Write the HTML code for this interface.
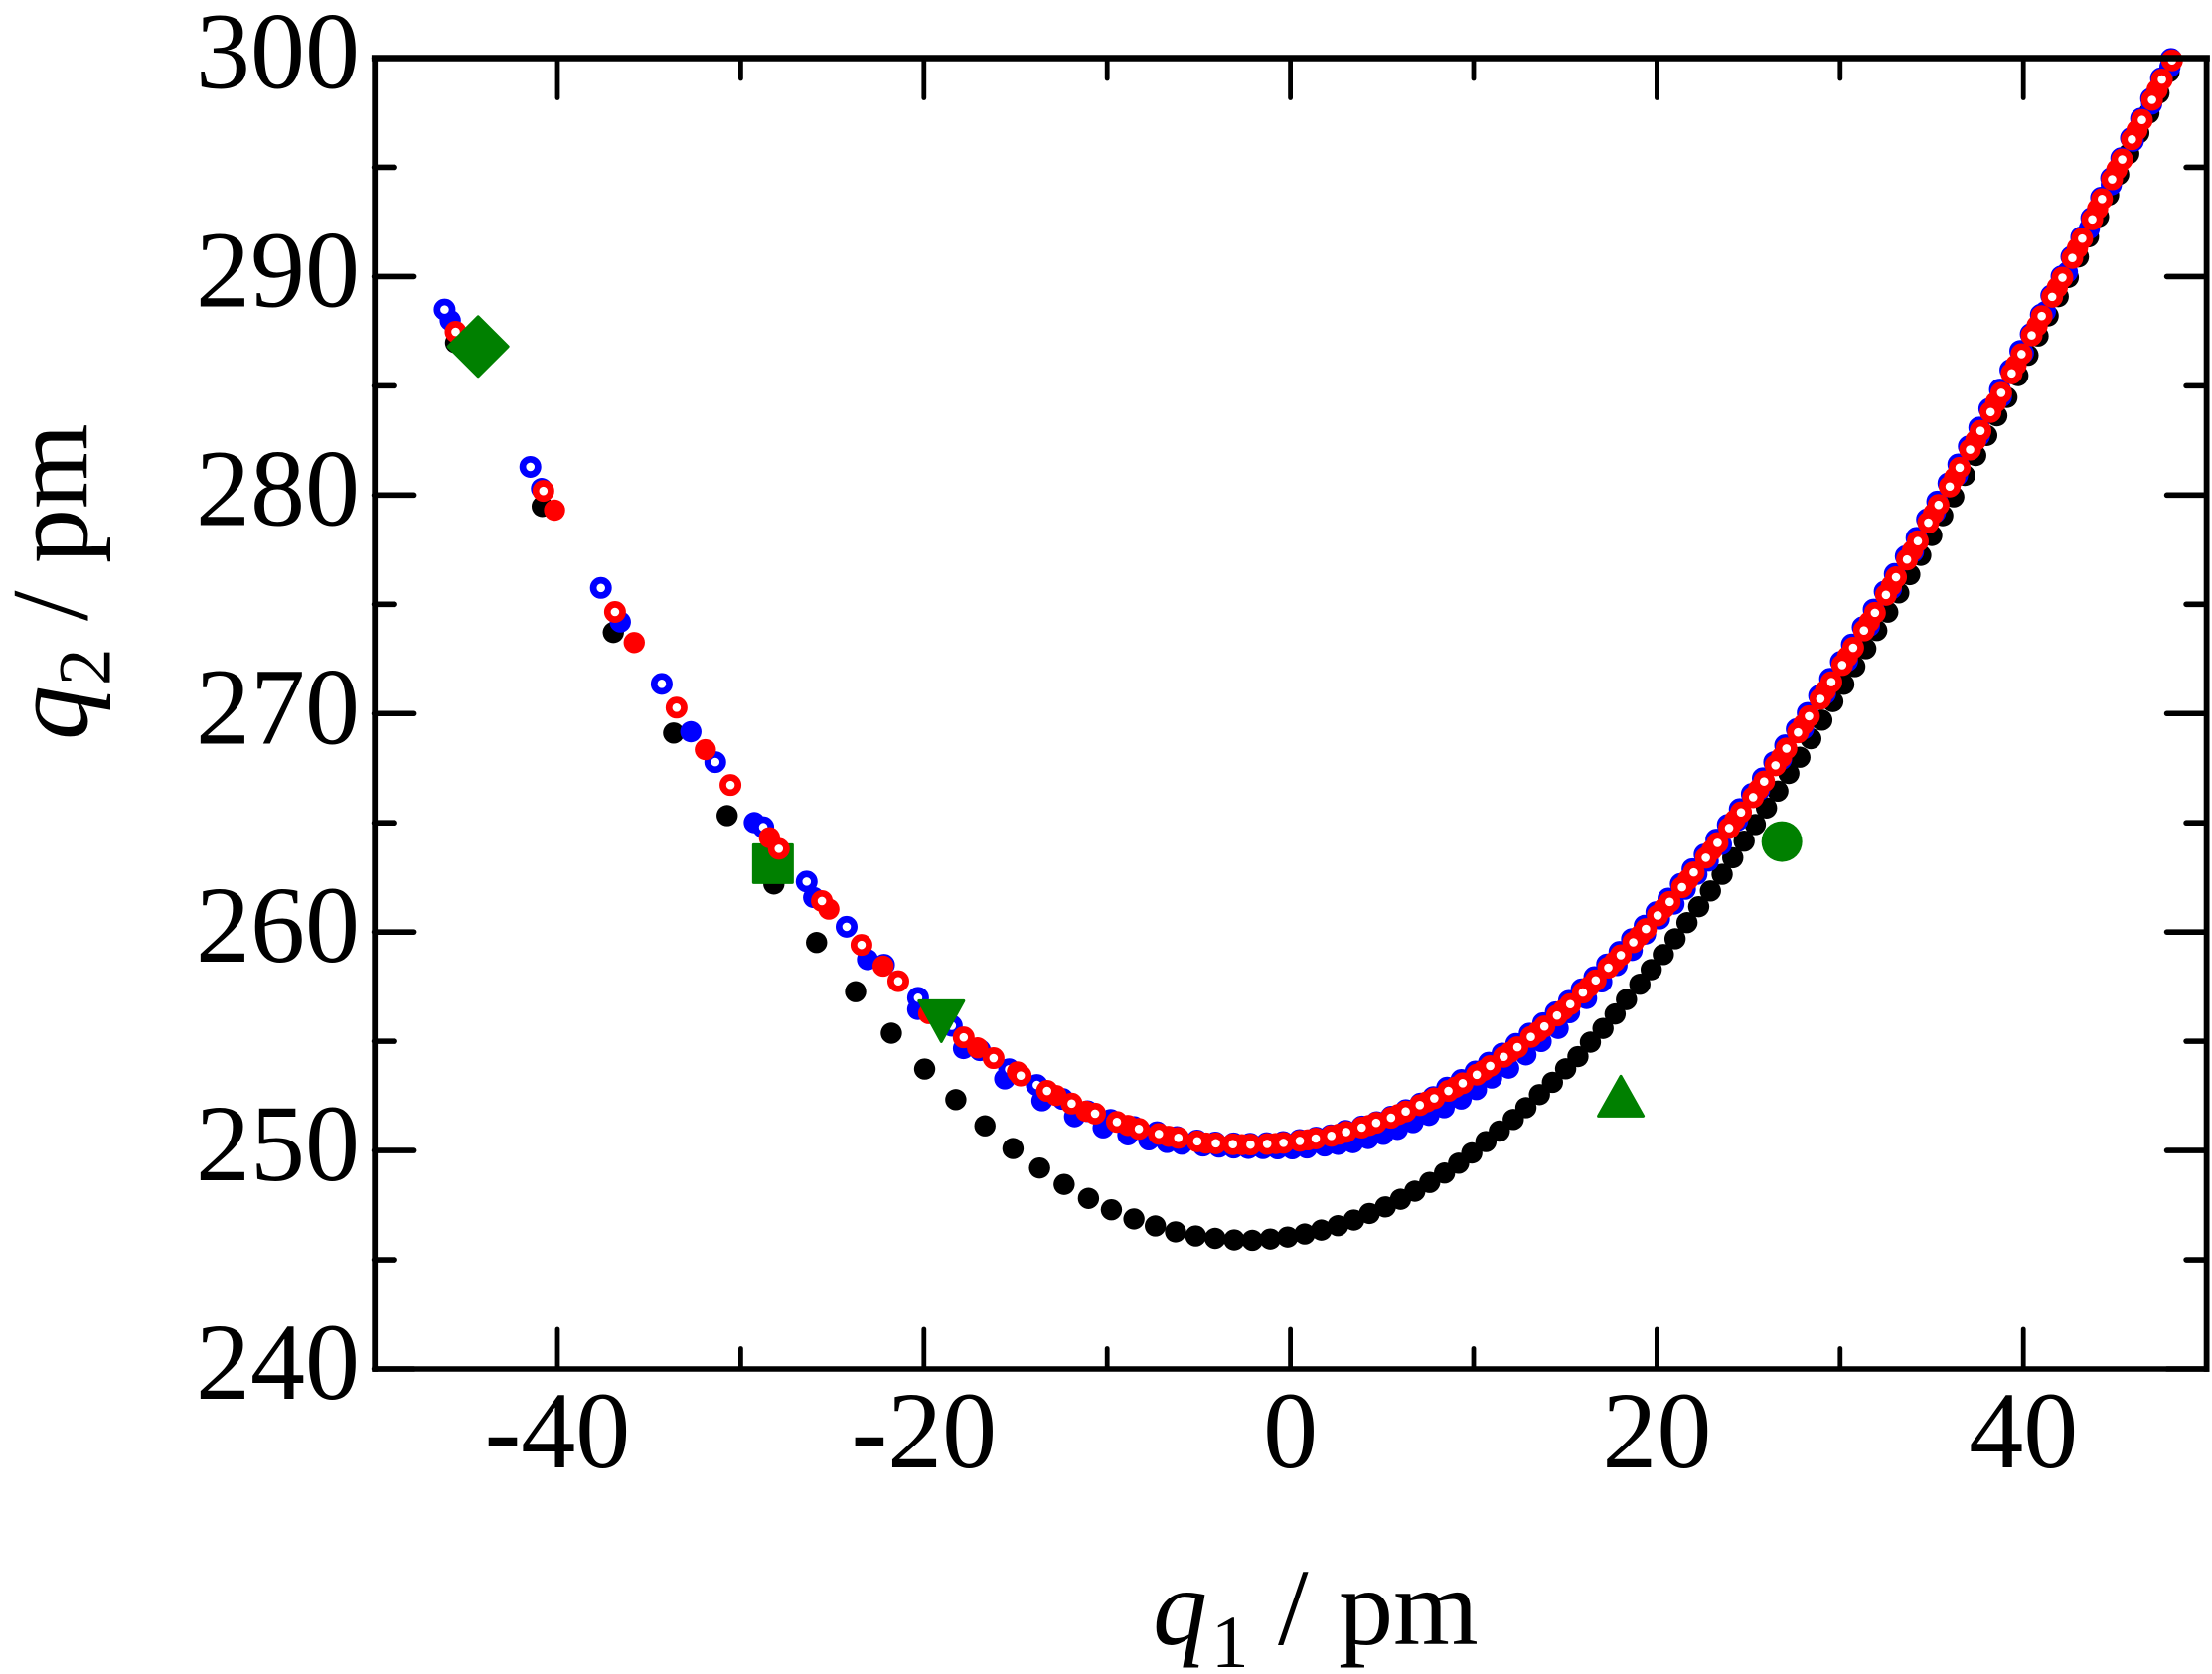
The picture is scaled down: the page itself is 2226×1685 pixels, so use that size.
<!DOCTYPE html>
<html lang="en">
<head>
<meta charset="utf-8">
<title>q1 vs q2 chart</title>
<style>
html,body{margin:0;padding:0;background:#fff;}
svg{display:block;}
text{font-family:"Liberation Serif",serif;fill:#000;}
</style>
</head>
<body>
<svg id="chart" xmlns="http://www.w3.org/2000/svg" width="2226" height="1685" viewBox="0 0 2226 1685">
  <rect x="0" y="0" width="2226" height="1685" fill="#fff"/>
  <g id="series"></g>
  <g id="axes"></g>
  <text x="1160" y="1655" font-size="110"><tspan font-style="italic">q</tspan><tspan font-size="75" dy="23" dx="4">1</tspan><tspan dy="-23" dx="2"> / </tspan><tspan dx="3">pm</tspan></text>
  <text transform="translate(87.5,745) rotate(-90)" font-size="110"><tspan font-style="italic">q</tspan><tspan font-size="75" dy="23">2</tspan><tspan dy="-23"> / pm</tspan></text>
</svg>
<script>
const xMin = -50;
const xMax = 50;
const yMin = 240;
const yMax = 300;
const xMajorTicks = [-40, -20, 0, 20, 40];
const xMinorTicks = [-30, -10, 10, 30];
const yMajorTicks = [240, 250, 260, 270, 280, 290, 300];
const yMinorTicks = [245, 255, 265, 275, 285, 295];

const blackQ1 = [-45.56,-40.83,-36.95,-33.66,-30.74,-28.19,-25.86,-23.73,-21.78,-19.96,-18.26,-16.67,-15.14,-13.69,-12.35,-11.02,-9.77,-8.54,-7.37,-6.27,-5.17,-4.11,-3.07,-2.08,-1.10,-0.15,0.78,1.69,2.59,3.46,4.31,5.18,6.01,6.79,7.60,8.41,9.18,9.90,10.67,11.40,12.16,12.85,13.59,14.30,15.02,15.69,16.37,17.06,17.72,18.34,19.07,19.69,20.35,20.99,21.64,22.28,22.92,23.56,24.14,24.76,25.37,25.98,26.6,27.2,27.8,28.4,29.0,29.6,30.2,30.8,31.4,32.0,32.6,33.2,33.8,34.4,35.0,35.6,36.2,36.8,37.4,38.0,38.55,39.1,39.7,40.25,40.8,41.35,41.9,42.45,43.0,43.55,44.1,44.65,45.2,45.75,46.3,46.85,47.4,47.95];
const blackQ2 = [286.97,279.48,273.71,269.11,265.33,262.20,259.52,257.27,255.37,253.73,252.33,251.13,250.09,249.20,248.45,247.81,247.29,246.87,246.55,246.28,246.09,245.98,245.91,245.89,245.95,246.04,246.18,246.36,246.56,246.82,247.12,247.42,247.77,248.14,248.54,248.97,249.42,249.89,250.41,250.89,251.42,251.96,252.56,253.12,253.74,254.30,254.96,255.59,256.25,256.91,257.61,258.28,258.97,259.69,260.43,261.16,261.88,262.64,263.40,264.16,264.92,265.68,266.45,267.26,268.0,268.85,269.7,270.55,271.34,272.15,272.97,273.8,274.64,275.52,276.36,277.24,278.15,279.06,279.92,280.9,281.81,282.73,283.63,284.47,285.47,286.4,287.28,288.2,289.08,289.96,290.9,291.82,292.74,293.73,294.67,295.62,296.57,297.48,298.4,299.37];

const blueFilledQ1 = [-45.85,-40.87,-36.57,-32.72,-29.26,-26.02,-23.08,-20.34,-17.84,-15.59,-13.56,-11.78,-10.22,-8.87,-7.73,-6.74,-5.93,-4.77,-3.9,-3.1,-2.3,-1.5,-0.7,0.1,0.9,1.86,2.6,3.41,4.24,5.07,5.84,6.69,7.56,8.39,9.32,10.15,10.98,11.91,12.85,13.68,14.61,15.23,16.16,16.99,17.82,18.65,19.38,20.14,20.93,21.55,22.18,22.80,23.52,24.4,25.6,26.8,28.0,29.2,30.4,31.6,32.8,34.0,35.2,36.4,37.6,38.8,40.0,41.2,42.4,43.6,44.8,46.0,47.0,48.0];
const blueFilledQ2 = [287.99,280.30,274.19,269.17,265.01,261.58,258.74,256.46,254.67,253.28,252.28,251.55,251.04,250.72,250.49,250.37,250.29,250.21,250.16,250.12,250.10,250.09,250.08,250.08,250.12,250.21,250.28,250.36,250.55,250.74,250.97,251.28,251.61,251.96,252.36,252.79,253.32,253.77,254.38,254.99,255.59,256.31,256.96,257.72,258.47,259.16,259.91,260.60,261.28,261.96,262.64,263.25,264.01,265.1,266.5,267.9,269.3,270.9,272.4,274.0,275.7,277.4,279.2,280.9,282.7,284.5,286.5,288.4,290.2,292.2,294.2,296.2,297.9,299.6];

const blueOpenQ1 = [-46.16,-41.48,-37.63,-34.31,-31.39,-28.77,-26.40,-24.22,-22.18,-20.32,-18.48,-16.94,-15.35,-13.84,-12.43,-11.07,-9.81,-8.55,-7.28,-6.2,-5.1,-4.1,-3.1,-2.2,-1.3,-0.4,0.5,1.4,2.2,3.0,3.9,4.7,5.5,6.3,7.1,7.8,8.55,9.33,10.10,10.83,11.57,12.32,13.05,13.79,14.48,15.20,15.89,16.59,17.28,17.96,18.64,19.33,19.97,20.63,21.30,21.94,22.60,23.24,23.87,24.52,25.18,25.78,26.40,27.00,27.63,28.23,28.85,29.45,30.04,30.64,31.23,31.83,32.43,32.98,33.58,34.17,34.74,35.30,35.91,36.45,37.02,37.59,38.14,38.72,39.29,39.83,40.40,40.95,41.52,42.08,42.62,43.16,43.71,44.24,44.79,45.34,45.87,46.42,46.97,47.51,48.06];
const blueOpenQ2 = [288.49,281.29,275.75,271.36,267.78,264.80,262.31,260.24,258.50,256.99,255.71,254.59,253.72,253.00,252.36,251.80,251.40,251.08,250.84,250.62,250.46,250.37,250.33,250.31,250.34,250.39,250.48,250.59,250.7,250.9,251.1,251.3,251.55,251.85,252.15,252.45,252.88,253.23,253.62,254.02,254.44,254.88,255.35,255.83,256.33,256.85,257.38,257.94,258.52,259.09,259.68,260.29,260.91,261.53,262.20,262.88,263.55,264.23,264.91,265.63,266.32,267.04,267.78,268.55,269.29,270.03,270.82,271.59,272.37,273.16,273.95,274.76,275.58,276.39,277.20,278.04,278.89,279.70,280.54,281.40,282.23,283.09,283.95,284.83,285.72,286.60,287.37,288.25,289.13,290.01,290.91,291.80,292.68,293.61,294.51,295.42,296.34,297.23,298.15,299.08,299.96];

const redFilledQ1 = [-40.16,-35.81,-31.93,-28.43,-25.19,-22.23,-19.74,-17.07,-14.9,-12.79,-11.16,-8.87,-6.65,-4.6,-2.65,-0.8,0.95,2.65,4.3,5.9,7.45,9.0,10.55,12.0,13.5,14.9,16.3,17.7,19.05,20.4,21.7,23.0,24.25,25.55,26.8,28.0,29.2,30.4,31.6,32.8,33.95,35.1,36.25,37.4,38.5,39.6,40.75,41.85,42.95,44.05,45.1,46.2,47.3];
const redFilledQ2 = [279.31,273.25,268.35,264.32,261.05,258.44,256.27,254.70,253.6,252.52,251.80,251.15,250.65,250.34,250.27,250.32,250.49,250.75,251.15,251.65,252.23,252.9,253.67,254.5,255.43,256.44,257.5,258.65,259.83,261.1,262.4,263.75,265.12,266.53,268.0,269.5,271.05,272.6,274.2,275.85,277.45,279.15,280.8,282.5,284.25,285.95,287.75,289.5,291.3,293.1,294.9,296.7,298.55];

const redOpenQ1 = [-45.56,-40.77,-36.86,-33.50,-30.56,-27.92,-25.57,-23.41,-21.40,-19.5,-17.83,-16.20,-14.72,-13.28,-11.94,-10.66,-9.47,-8.27,-7.18,-6.12,-5.08,-4.07,-3.14,-2.18,-1.27,-0.38,0.51,1.38,2.23,3.04,3.89,4.68,5.49,6.29,7.06,7.85,8.62,9.40,10.17,10.90,11.64,12.39,13.12,13.86,14.55,15.27,15.96,16.66,17.35,18.03,18.71,19.40,20.04,20.70,21.37,22.01,22.67,23.31,23.94,24.59,25.25,25.85,26.47,27.07,27.70,28.30,28.92,29.52,30.11,30.71,31.30,31.90,32.50,33.05,33.65,34.24,34.81,35.37,35.98,36.52,37.09,37.66,38.21,38.79,39.36,39.90,40.45,41.00,41.57,42.13,42.67,43.21,43.76,44.29,44.84,45.39,45.92,46.47,47.02,47.56,48.11];
const redOpenQ2 = [287.47,280.19,274.65,270.27,266.73,263.81,261.42,259.41,257.75,256.4,255.18,254.23,253.43,252.73,252.15,251.69,251.31,250.99,250.76,250.58,250.42,250.33,250.29,250.27,250.30,250.35,250.44,250.55,250.67,250.85,251.05,251.27,251.50,251.79,252.08,252.39,252.73,253.08,253.47,253.87,254.29,254.73,255.20,255.68,256.18,256.70,257.23,257.79,258.37,258.94,259.53,260.14,260.76,261.38,262.05,262.73,263.40,264.08,264.76,265.48,266.17,266.89,267.63,268.40,269.14,269.88,270.67,271.44,272.22,273.01,273.80,274.61,275.43,276.24,277.05,277.89,278.74,279.55,280.39,281.25,282.08,282.94,283.80,284.68,285.57,286.45,287.31,288.19,289.07,289.95,290.85,291.74,292.62,293.55,294.45,295.36,296.28,297.17,298.09,299.02,299.90];

const squarePoint = [-28.24, 263.13];
const diamondPoint = [-44.33, 286.80];
const triangleDownPoint = [-19.05, 255.92];
const triangleUpPoint = [18.03, 252.49];
const circlePoint = [26.82, 264.14];

const plotLeft = 376.6;
const plotRight = 2220.6;
const plotTop = 58.5;
const plotBottom = 1378;
const SVG_NS = 'http://www.w3.org/2000/svg';

function xScale(v) {
  return plotLeft + (v - xMin) * (plotRight - plotLeft) / (xMax - xMin);
}
function yScale(v) {
  return plotBottom - (v - yMin) * (plotBottom - plotTop) / (yMax - yMin);
}

const axes = document.getElementById('axes');
const series = document.getElementById('series');

function edge(x1, y1, x2, y2, w, label) {
  const el = document.createElementNS(SVG_NS, 'line');
  
  
  el.setAttribute('x1', x1);
  el.setAttribute('y1', y1);
  el.setAttribute('x2', x2);
  el.setAttribute('y2', y2);
  el.setAttribute('stroke', '#000');
  el.setAttribute('stroke-width', w);
  el.setAttribute('stroke-linecap', 'square');
  axes.appendChild(el);
}
edge(xScale(xMin) + 0.6, yScale(yMax), xScale(xMax), yScale(yMax), 6.6, 'plot-frame-top');
edge(xScale(xMin) + 0.6, yScale(yMin), xScale(xMax), yScale(yMin), 5.6, 'plot-frame-bottom');
edge(xScale(xMin) + 0.6, yScale(yMax), xScale(xMin) + 0.6, yScale(yMin), 5.8, 'plot-frame-left');
edge(xScale(xMax), yScale(yMax), xScale(xMax), yScale(yMin), 5.8, 'plot-frame-right');

function tick(x1, y1, x2, y2, w) {
  const el = document.createElementNS(SVG_NS, 'line');
  
  
  el.setAttribute('x1', x1);
  el.setAttribute('y1', y1);
  el.setAttribute('x2', x2);
  el.setAttribute('y2', y2);
  el.setAttribute('stroke', '#000');
  el.setAttribute('stroke-width', w);
  el.setAttribute('stroke-linecap', 'round');
  axes.appendChild(el);
}
function xTicks(vals, len) {
  vals.forEach(function (v) {
    tick(xScale(v), plotBottom, xScale(v), plotBottom - len, 4.8);
    tick(xScale(v), plotTop, xScale(v), plotTop + len, 4.8);
  });
}
function yTicks(vals, len) {
  vals.forEach(function (v) {
    tick(plotLeft, yScale(v), plotLeft + len, yScale(v), 5.6);
    tick(plotRight, yScale(v), plotRight - len, yScale(v), 5.6);
  });
}
xTicks(xMajorTicks, 40);
xTicks(xMinorTicks, 20.5);
yTicks(yMajorTicks, 40);
yTicks(yMinorTicks, 20.5);

xMajorTicks.forEach(function (v) {
  const el = document.createElementNS(SVG_NS, 'text');
  
  
  el.setAttribute('x', xScale(v));
  el.setAttribute('y', 1477);
  el.setAttribute('font-size', 110);
  el.setAttribute('text-anchor', 'middle');
  el.textContent = String(v);
  axes.appendChild(el);
});
yMajorTicks.forEach(function (v) {
  const el = document.createElementNS(SVG_NS, 'text');
  
  
  el.setAttribute('x', 362);
  el.setAttribute('y', yScale(v) + 30);
  el.setAttribute('font-size', 110);
  el.setAttribute('text-anchor', 'end');
  el.textContent = String(v);
  axes.appendChild(el);
});

function drawFilled(q1s, q2s, color, label) {
  q1s.forEach(function (q1, i) {
    const el = document.createElementNS(SVG_NS, 'circle');
    
    
    el.setAttribute('cx', xScale(q1));
    el.setAttribute('cy', yScale(q2s[i]));
    el.setAttribute('r', 10.7);
    el.setAttribute('fill', color);
    series.appendChild(el);
  });
}
function drawOpen(q1s, q2s, color, label) {
  q1s.forEach(function (q1, i) {
    const el = document.createElementNS(SVG_NS, 'circle');
    
    
    el.setAttribute('cx', xScale(q1));
    el.setAttribute('cy', yScale(q2s[i]));
    el.setAttribute('r', 7.65);
    el.setAttribute('fill', '#fff');
    el.setAttribute('stroke', color);
    el.setAttribute('stroke-width', 6.7);
    series.appendChild(el);
  });
}
function drawGreen(point, offsets, label) {
  const cx = xScale(point[0]);
  const cy = yScale(point[1]);
  const pts = offsets.map(function (o) {
    return (cx + o[0]) + ',' + (cy + o[1]);
  }).join(' ');
  const el = document.createElementNS(SVG_NS, 'polygon');
  
  
  el.setAttribute('points', pts);
  el.setAttribute('fill', '#008000');
  el.setAttribute('stroke', '#008000');
  el.setAttribute('stroke-width', 3);
  el.setAttribute('stroke-linejoin', 'round');
  series.appendChild(el);
}

drawFilled(blackQ1, blackQ2, '#000', 'black-point');
drawFilled(blueFilledQ1, blueFilledQ2, '#0000ff', 'blue-filled-point');
drawOpen(blueOpenQ1, blueOpenQ2, '#0000ff', 'blue-open-point');
drawGreen(squarePoint, [[-19.5,-19],[19.5,-19],[19.5,19],[-19.5,19]], 'green-square-marker');
drawFilled(redFilledQ1, redFilledQ2, '#ff0000', 'red-filled-point');
drawOpen(redOpenQ1, redOpenQ2, '#ff0000', 'red-open-point');
drawGreen(diamondPoint, [[0,-30],[30,0],[0,30],[-30,0]], 'green-diamond-marker');
drawGreen(triangleDownPoint, [[-22.5,-20.5],[22.5,-20.5],[0,20.5]], 'green-triangle-down-marker');
drawGreen(triangleUpPoint, [[0,-20],[22.5,20],[-22.5,20]], 'green-triangle-up-marker');

const greenCircle = document.createElementNS(SVG_NS, 'circle');


greenCircle.setAttribute('cx', xScale(circlePoint[0]));
greenCircle.setAttribute('cy', yScale(circlePoint[1]));
greenCircle.setAttribute('r', 20.5);
greenCircle.setAttribute('fill', '#008000');
series.appendChild(greenCircle);
</script>
</body>
</html>
